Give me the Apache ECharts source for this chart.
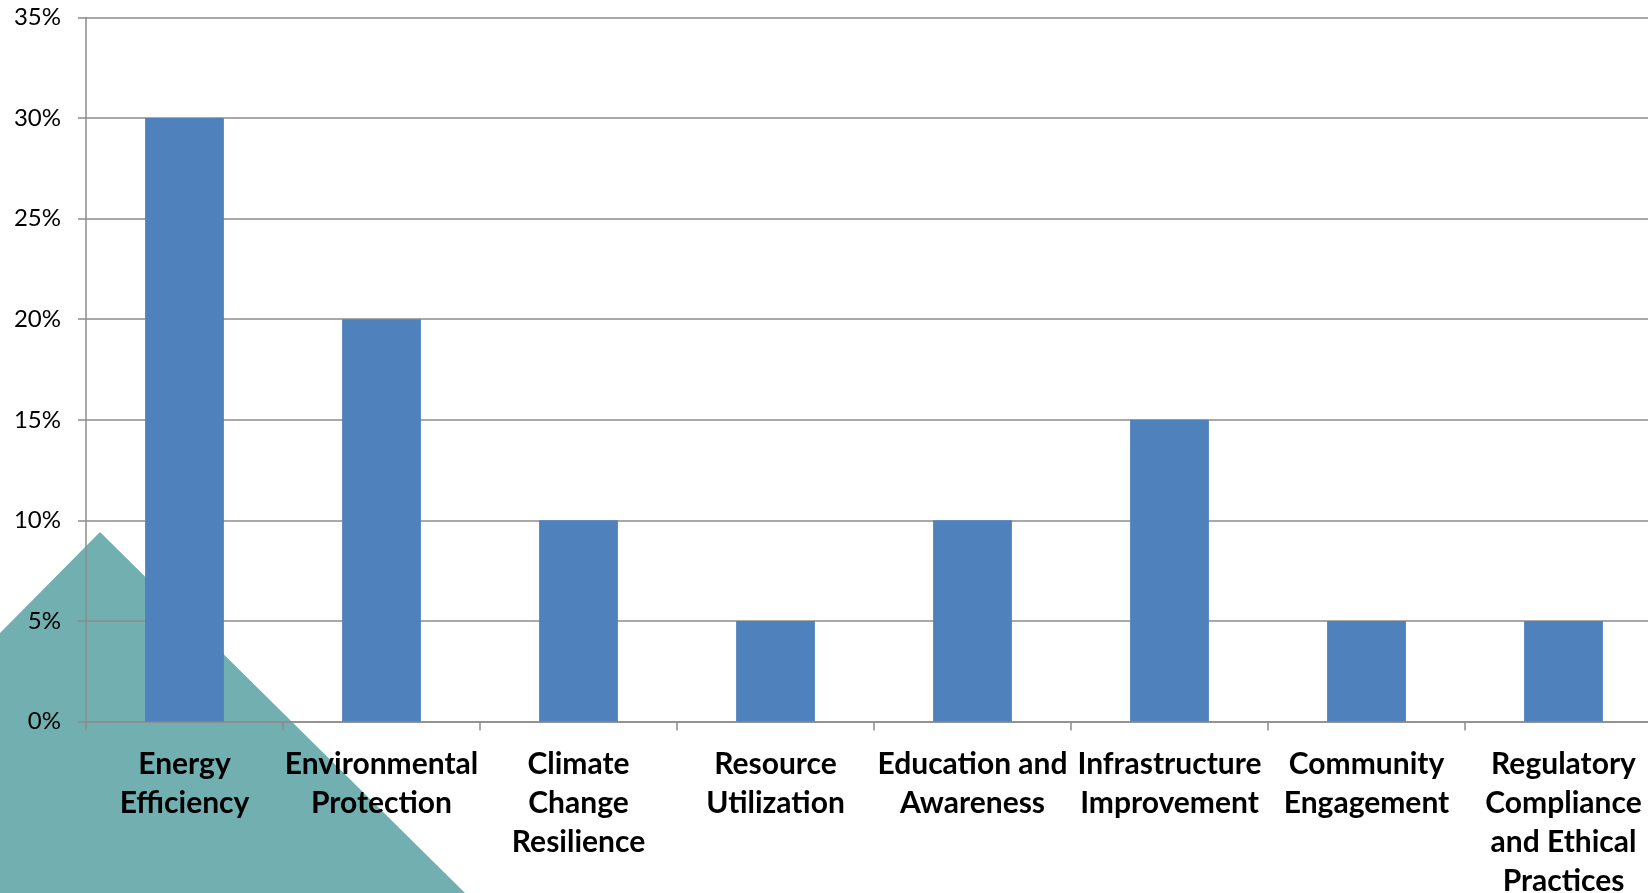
<!DOCTYPE html>
<html>
<head>
<meta charset="utf-8">
<script src="https://cdn.jsdelivr.net/npm/echarts@6/dist/echarts.min.js"></script>
<style>
html,body{margin:0;padding:0;background:#fff;}
#chart{width:1648px;height:893px;}
</style>
</head>
<body>
<div id="chart"></div>
<script>
const categories = [
  "Energy\nEfficiency",
  "Environmental\nProtection",
  "Climate\nChange\nResilience",
  "Resource\nUtilization",
  "Education and\nAwareness",
  "Infrastructure\nImprovement",
  "Community\nEngagement",
  "Regulatory\nCompliance\nand Ethical\nPractices"
];
const shares = [30, 20, 10, 5, 10, 15, 5, 5];
const yMin = 0, yMax = 35, yStep = 5;

const chart = echarts.init(document.getElementById('chart'), null, {renderer: 'canvas'});
const grey = '#8C8C8C';
chart.setOption({
  animation: false,
  backgroundColor: 'transparent',
  graphic: [{
    type: 'polygon',
    z: -100,
    silent: true,
    shape: { points: [[0, 633], [100, 532], [465, 893], [0, 893]] },
    style: { fill: '#71AFB0' }
  }],
  grid: { left: 86, top: 17.5, height: 704, width: 1576, containLabel: false, outerBoundsMode: 'none' },
  xAxis: {
    type: 'category',
    data: categories,
    boundaryGap: true,
    axisLine: { show: true, lineStyle: { color: grey, width: 1.5 } },
    axisTick: { show: true, length: 9, lineStyle: { color: grey, width: 1.5 } },
    axisLabel: {
      interval: 0,
      margin: 23,
      fontFamily: 'Lato',
      fontWeight: 'bold',
      fontSize: 30,
      lineHeight: 39,
      color: '#000',
      align: 'center'
    },
    splitLine: { show: false }
  },
  yAxis: {
    type: 'value',
    min: yMin,
    max: yMax,
    interval: yStep,
    axisLine: { show: true, lineStyle: { color: grey, width: 1.5 } },
    axisTick: { show: true, length: 8, lineStyle: { color: grey, width: 1.5 } },
    axisLabel: {
      margin: 25,
      fontFamily: 'Lato',
      fontSize: 24,
      color: '#000',
      formatter: v => v + '%'
    },
    splitLine: { show: true, lineStyle: { color: grey, width: 1.5 } }
  },
  series: [{
    type: 'bar',
    data: shares,
    barWidth: '40%',
    itemStyle: { color: '#4F81BD' }
  }]
});
</script>
</body>
</html>
